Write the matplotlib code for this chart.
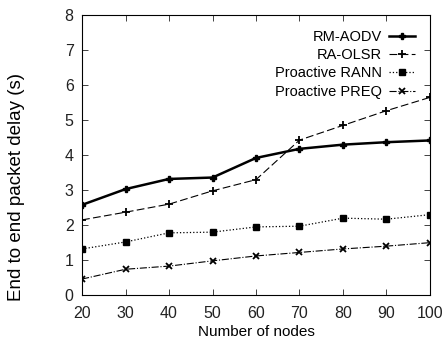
import matplotlib.pyplot as plt

# end to end delay vs. number of nodes
nodes = [20, 30, 40, 50, 60, 70, 80, 90, 100]
rm_aodv = [2.58, 3.03, 3.32, 3.36, 3.92, 4.18, 4.30, 4.37, 4.42]
ra_olsr = [2.15, 2.37, 2.60, 2.98, 3.30, 4.43, 4.85, 5.27, 5.65]
rann = [1.32, 1.52, 1.78, 1.80, 1.95, 1.97, 2.20, 2.17, 2.30]
preq = [0.46, 0.74, 0.83, 0.98, 1.12, 1.22, 1.32, 1.40, 1.50]

plt.rcParams.update({'font.family': 'Liberation Sans', 'font.size': 10})

fig = plt.figure(figsize=(4.46, 3.44), dpi=100)
ax = fig.add_axes([0.184, 0.142, 0.78, 0.814])

ax.plot(nodes, rm_aodv, '-', color='black', lw=1.8, marker='P', ms=4, label='RM-AODV')
ax.plot(nodes, ra_olsr, color='black', lw=0.8, dashes=(7, 3), marker='+', ms=6, mew=1.3, label='RA-OLSR')
ax.plot(nodes, rann, ':', color='black', lw=0.9, marker='s', ms=4, label='Proactive RANN')
ax.plot(nodes, preq, '-.', color='black', lw=0.8, marker='x', ms=5, mew=1.3, label='Proactive PREQ')

ax.set_xlim(20, 100)
ax.set_ylim(0, 8)
ax.set_xticks(nodes)
ax.set_yticks(range(0, 9))
ax.tick_params(direction='in', top=True, right=True, length=4, width=0.6,
               colors='#222222', labelsize=11.5)
ax.tick_params(axis='x', pad=8)
ax.tick_params(axis='y', pad=6)
for s in ax.spines.values():
    s.set_linewidth(0.8)

ax.set_xlabel('Number of nodes', fontsize=11, labelpad=3)
ax.set_ylabel('End to end packet delay (s)', fontsize=13.5)
ax.yaxis.set_label_coords(-0.165, 0.385)

ax.legend(loc='upper right', frameon=False, markerfirst=False, handlelength=1.8,
          handletextpad=0.5, labelspacing=0.3, borderaxespad=0.6, fontsize=10.5)

plt.savefig('out.png', dpi=100)
plt.close()
